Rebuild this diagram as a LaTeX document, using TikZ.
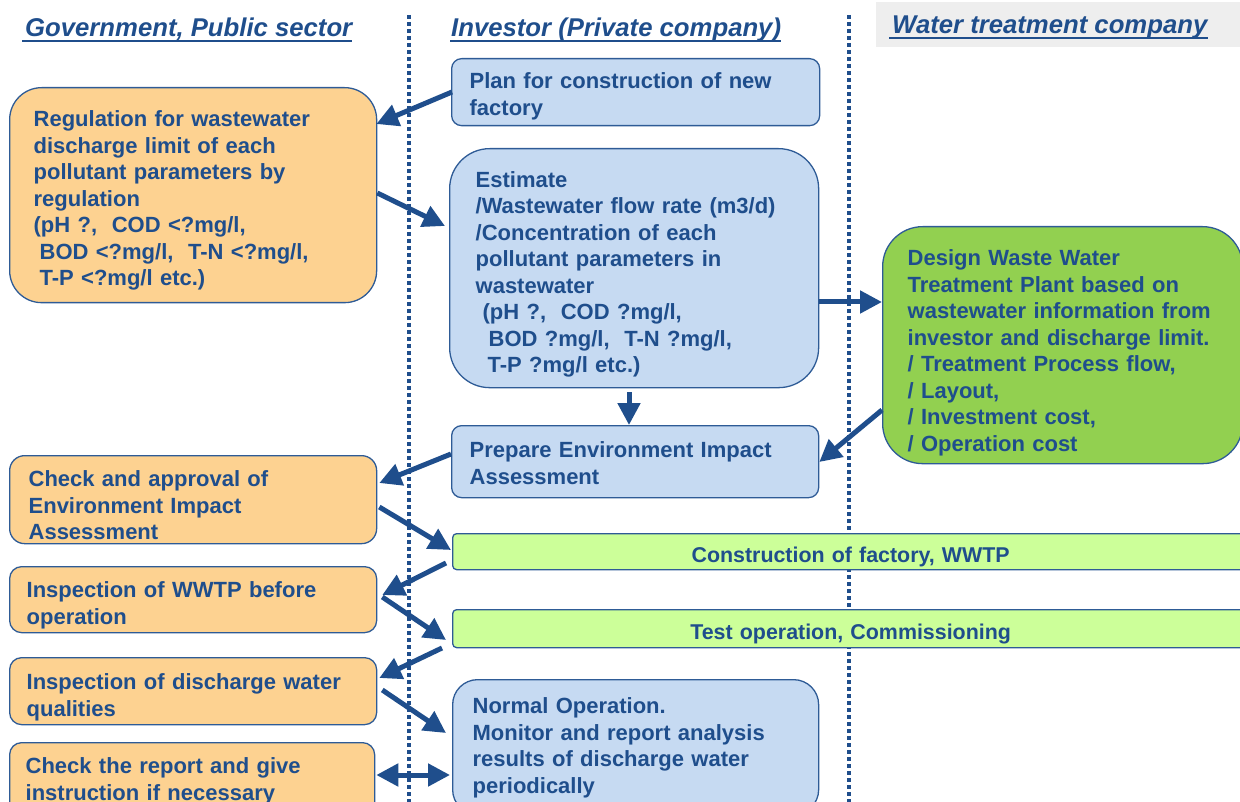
\documentclass[tikz,border=0pt]{standalone}
\usepackage{fontspec}
\setmainfont{Liberation Sans}
\usetikzlibrary{arrows.meta,calc}
\definecolor{tb}{HTML}{1F4E8C}
\definecolor{bd}{HTML}{2E5B96}
\definecolor{orf}{HTML}{FDD291}
\definecolor{blf}{HTML}{C6DAF2}
\definecolor{grf}{HTML}{92D050}
\definecolor{lgf}{HTML}{CCFF99}
\definecolor{hdrbg}{HTML}{EEEEEE}
\newcommand\tS[1]{\rule{0pt}{#1pt}}
\newcommand\bS[1]{\rule[-#1pt]{0pt}{0pt}}
\begin{document}
\begin{tikzpicture}[x=1pt,y=-1pt,
  boxbase/.style={draw=bd, line width=1.3pt, anchor=north west, align=left, text=tb,
    font=\bfseries\fontsize{22}{26.5}\selectfont, inner ysep=0pt},
  orbox/.style={boxbase, fill=orf},
  blbox/.style={boxbase, fill=blf},
  grbox/.style={boxbase, fill=grf},
  barbox/.style={boxbase, fill=lgf, align=center, rounded corners=4pt,
    font=\bfseries\fontsize{21.4}{25}\selectfont},
  hdr/.style={anchor=base west, inner sep=0pt, text=tb,
    font=\bfseries\itshape\fontsize{25.7}{30}\selectfont},
  uline/.style={draw=tb, line width=2pt},
  dotline/.style={draw=tb, line width=3.8pt, dash pattern=on 4pt off 3pt},
  arr/.style={draw=tb, line width=5pt, -{Triangle[length=22pt,width=22pt]}},
  darr/.style={draw=tb, line width=5pt, {Triangle[length=22pt,width=22pt]}-{Triangle[length=22pt,width=22pt]}}
]
\useasboundingbox (0,0) rectangle (1240,802);
\fill[hdrbg] (876,2) rectangle (1240,47);

% lane separators
\draw[dotline] (409,15) -- (409,802);
\draw[dotline] (849,15) -- (849,802);

% headers
\node[hdr] (hg) at (25,37) {Government, Public sector};
\node[hdr] (hi) at (451,37) {Investor (Private company)};
\node[hdr] (hw) at (892,34) {Water treatment company};
\draw[uline] ([xshift=-3pt,yshift=-4pt]hg.base west) -- ([yshift=-4pt]hg.base east);
\draw[uline] ([xshift=-1pt,yshift=-4pt]hi.base west) -- ([yshift=-4pt]hi.base east);
\draw[uline] ([xshift=-3pt,yshift=-4pt]hw.base west) -- ([yshift=-4pt]hw.base east);

% government column
\node[orbox, rounded corners=32pt, inner xsep=24pt, text width=319pt, minimum height=215pt] (reg) at (9,87)
  {\tS{30}Regulation for wastewater\\discharge limit of each\\pollutant parameters by\\regulation\\(pH ?,\ \ COD <?mg/l,\\\hspace*{6pt}BOD <?mg/l,\ \ T-N <?mg/l,\\\hspace*{6pt}T-P <?mg/l etc.)\bS{8}};
\node[orbox, rounded corners=15pt, inner xsep=19pt, text width=329pt, minimum height=88pt] (ca) at (9,455)
  {\tS{27}Check and approval of\\Environment Impact\\Assessment};
\node[orbox, rounded corners=12pt, inner xsep=17pt, text width=333pt, minimum height=66pt] (iw) at (9,566)
  {\tS{30.5}Inspection of WWTP before\\operation\bS{8}};
\node[orbox, rounded corners=12pt, inner xsep=17pt, text width=333pt, minimum height=67pt] (id) at (9,657)
  {\tS{32}Inspection of discharge water\\qualities\bS{8}};
\node[orbox, rounded corners=12pt, inner xsep=16pt, text width=333pt, minimum height=78pt] (cr) at (9,742)
  {\tS{19}Check the report and give\\instruction if necessary\bS{8}};

% investor column
\node[blbox, rounded corners=10pt, inner xsep=18pt, text width=332pt, minimum height=67pt] (plan) at (451,58)
  {\tS{27.5}Plan for construction of new\\factory\bS{8}};
\node[blbox, rounded corners=40pt, inner xsep=26pt, text width=317pt, minimum height=239pt] (est) at (449,148)
  {\tS{32}Estimate\\/Wastewater flow rate (m3/d)\\/Concentration of each\\pollutant parameters in\\wastewater\\\hspace*{7pt}(pH ?,\ \ COD ?mg/l,\\\hspace*{13pt}BOD ?mg/l,\ \ T-N ?mg/l,\\\hspace*{12pt}T-P ?mg/l etc.)\bS{8}};
\node[blbox, rounded corners=10pt, inner xsep=18pt, text width=331pt, minimum height=72pt] (eia) at (451,425)
  {\tS{26.5}Prepare Environment Impact\\Assessment\bS{8}};
\node[blbox, rounded corners=25pt, inner xsep=20pt, text width=326pt, minimum height=135pt] (nor) at (452,679)
  {\tS{20.5}Normal Operation.\\Monitor and report analysis\\results of discharge water\\periodically\bS{8}};

% water treatment company
\node[grbox, rounded corners=40pt, inner xsep=25pt, text width=310pt, minimum height=237pt] (des) at (882,226)
  {\tS{34.5}Design Waste Water\\Treatment Plant based on\\wastewater information from\\investor and discharge limit.\\/ Treatment Process flow,\\/ Layout,\\/ Investment cost,\\/ Operation cost\bS{8}};

% shared bars
\node[barbox, text width=796pt, inner xsep=0pt, minimum height=36pt] (con) at (452,533) {\tS{27}Construction of factory, WWTP\bS{5}};
\node[barbox, text width=796pt, inner xsep=0pt, minimum height=38pt] (test) at (452,609) {\tS{27}Test operation, Commissioning\bS{5}};

% connectors
\draw[arr] ($(plan.north west)+(1,34)$) -- ($(reg.north east)+(-1,37)$);
\draw[arr] ($(reg.north east)+(0,106)$) -- ($(est.north west)+(-4,78)$);
\draw[arr] ($(est.north east)+(0,154)$) -- ($(des.north west)+(0,76)$);
\draw[arr] ($(est.south west)+(180,4)$) -- ($(eia.north west)+(178,0)$);
\draw[arr] ($(des.north west)+(0,184)$) -- ($(eia.north east)+(0,37)$);
\draw[arr] ($(eia.north west)+(0,29)$) -- ($(ca.north east)+(2,28)$);
\draw[arr] ($(ca.north east)+(2,52)$) -- ($(con.north west)+(-1,17)$);
\draw[arr] ($(con.north west)+(-6,30)$) -- ($(iw.north east)+(5,29)$);
\draw[arr] ($(iw.north east)+(5,31)$) -- ($(test.north west)+(-6,31)$);
\draw[arr] ($(test.north west)+(-10,39)$) -- ($(id.north east)+(2,21)$);
\draw[arr] ($(id.north east)+(5,33)$) -- ($(nor.north west)+(-6,54)$);
\draw[darr] ($(cr.north east)+(1,33)$) -- ($(nor.north west)+(-2,96)$);
\end{tikzpicture}
\end{document}
